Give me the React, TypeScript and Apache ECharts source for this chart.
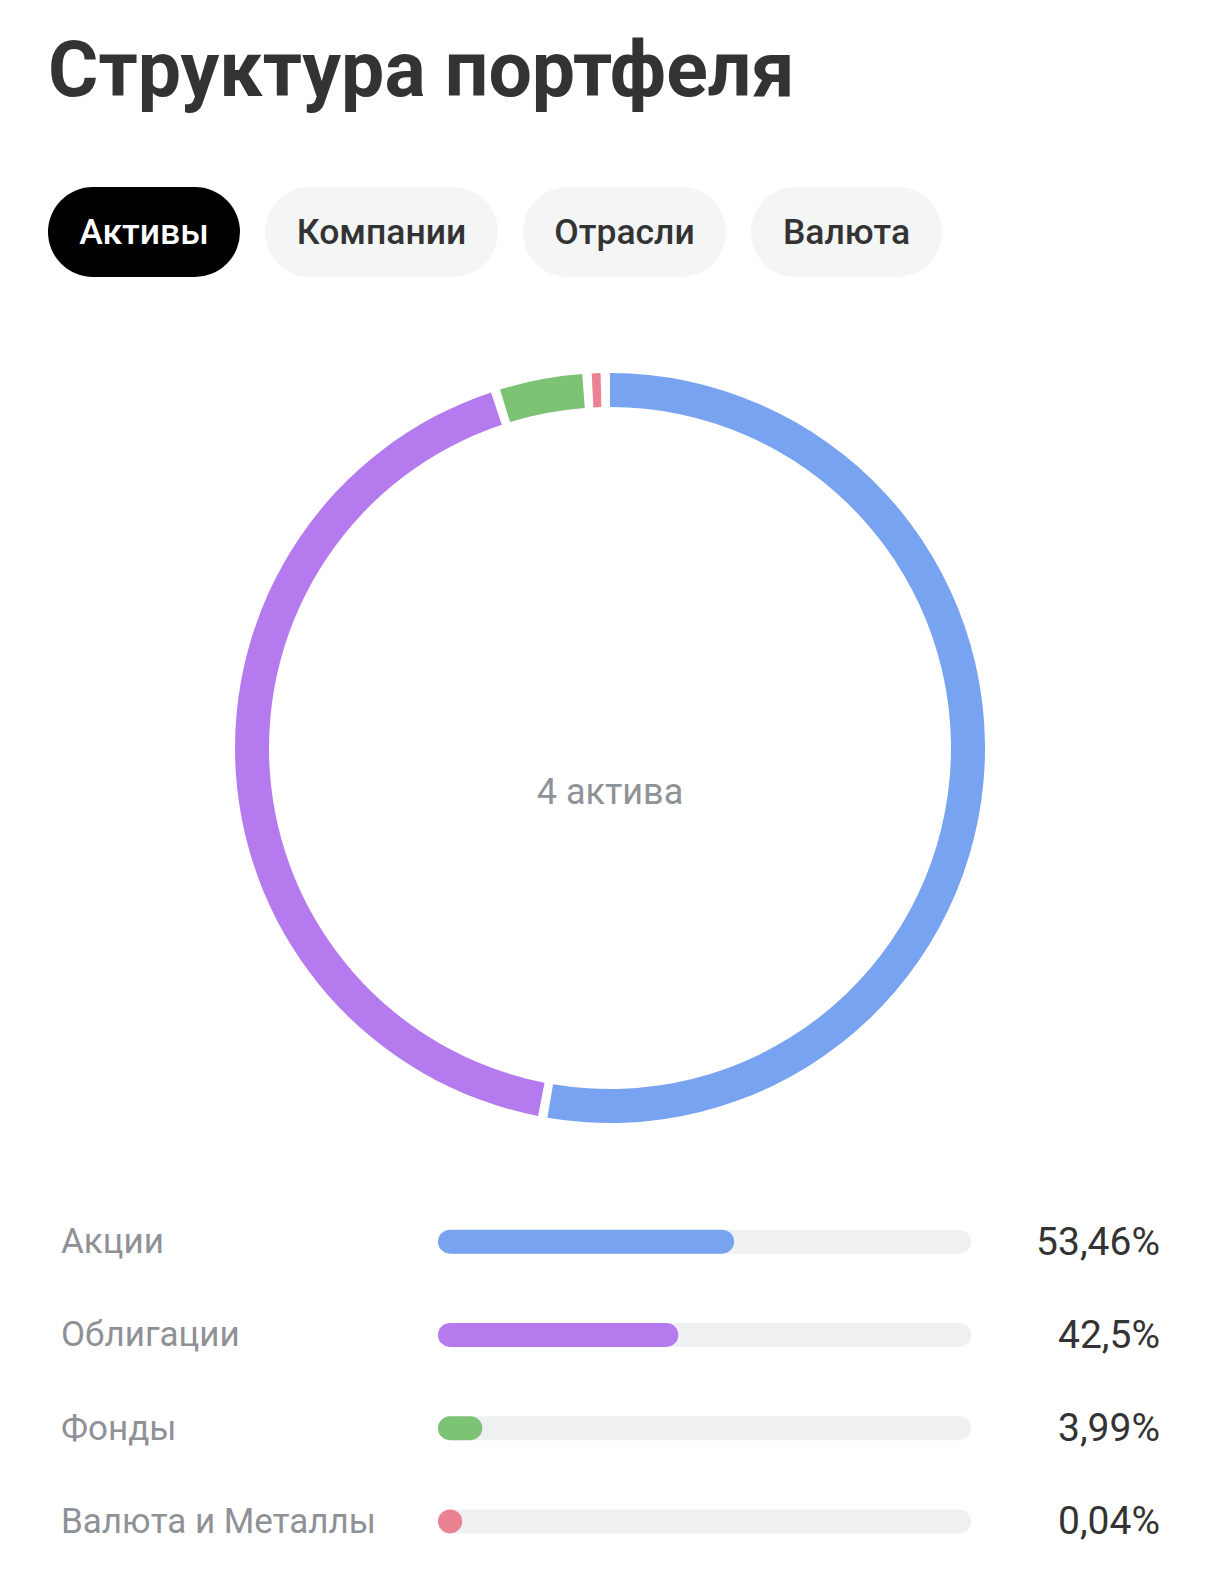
import React, { useEffect, useRef } from "react";
import * as echarts from "echarts";

const title = "Структура портфеля";
const tabs = ["Активы", "Компании", "Отрасли", "Валюта"];
const categories = ["Акции", "Облигации", "Фонды", "Валюта и Металлы"];
const shares = [53.46, 42.5, 3.99, 0.04];
const colors = ["#78a3f0", "#b57bee", "#7cc375", "#ea8291"];
const centerLabel = "4 актива";

const fmt = (v: number) => String(v).replace(".", ",") + "%";

export default function App() {
  const ref = useRef<HTMLDivElement>(null);
  useEffect(() => {
    document.body.style.margin = "0";
    const chart = echarts.init(ref.current!, null, { renderer: "svg" });
    const font = "Roboto, 'Noto Sans', sans-serif";
    const tabGeom = [
      { x: 48, w: 192 },
      { x: 265, w: 233 },
      { x: 523, w: 203 },
      { x: 751, w: 191 },
    ];
    const graphics: any[] = [
      {
        type: "text",
        left: 48,
        top: 31,
        style: { text: title, font: `bold 77px ${font}`, fill: "#333333" },
      },
    ];
    tabs.forEach((t, i) => {
      const g = tabGeom[i];
      const active = i === 0;
      graphics.push({
        type: "rect",
        shape: { x: g.x, y: 187, width: g.w, height: 90, r: 45 },
        style: { fill: active ? "#000000" : "#f4f5f5" },
      });
      graphics.push({
        type: "text",
        x: g.x + g.w / 2,
        y: 232,
        style: {
          text: t,
          font: `500 35.5px ${font}`,
          fill: active ? "#ffffff" : "#333333",
          align: "center",
          verticalAlign: "middle",
        },
      });
    });
    graphics.push({
      type: "text",
      x: 610,
      y: 792,
      style: {
        text: centerLabel,
        font: `36px ${font}`,
        fill: "#8f9297",
        align: "center",
        verticalAlign: "middle",
      },
    });

    const capsule = (fillFor: (i: number) => string, full: boolean) => (params: any, api: any) => {
      const cat = api.value(0);
      const v = full ? 100 : api.value(1);
      const s = api.coord([0, cat]);
      const e = api.coord([v, cat]);
      const h = 24;
      return {
        type: "rect",
        shape: { x: s[0] - h / 2, y: s[1] - h / 2, width: e[0] - s[0] + h, height: h, r: h / 2 },
        style: { fill: fillFor(params.dataIndex) },
      };
    };

    chart.setOption({
      animation: false,
      textStyle: { fontFamily: font },
      graphic: graphics,
      grid: { left: 450, right: 261, top: 1195, height: 373 },
      xAxis: { type: "value", min: 0, max: 100, show: false },
      yAxis: [
        {
          type: "category",
          data: categories,
          inverse: true,
          axisLine: { show: false },
          axisTick: { show: false },
          splitLine: { show: false },
          axisLabel: { align: "left", margin: 389, fontSize: 35, color: "#8e9196", fontFamily: font },
        },
        {
          type: "category",
          position: "right",
          data: shares.map(fmt),
          inverse: true,
          axisLine: { show: false },
          axisTick: { show: false },
          splitLine: { show: false },
          axisLabel: { align: "right", margin: 201, fontSize: 39, color: "#333333", fontFamily: font },
        },
      ],
      series: [
        {
          type: "custom",
          yAxisIndex: 0,
          encode: { x: 1, y: 0 },
          data: shares.map((v, i) => [i, 100]),
          renderItem: capsule(() => "#eef0f1", true),
          silent: true,
        },
        {
          type: "custom",
          yAxisIndex: 0,
          encode: { x: 1, y: 0 },
          data: shares.map((v, i) => [i, v]),
          renderItem: capsule((i) => colors[i], false),
          silent: true,
        },
        {
          type: "pie",
          center: [610, 748],
          radius: [341, 375],
          startAngle: 90.72,
          clockwise: true,
          padAngle: 1.45,
          minAngle: 1.35,
          avoidLabelOverlap: false,
          label: { show: false },
          labelLine: { show: false },
          emphasis: { disabled: true },
          data: categories.map((c, i) => ({ name: c, value: shares[i], itemStyle: { color: colors[i] } })),
        },
      ],
    });
    return () => chart.dispose();
  }, []);
  return (
    <div
      ref={ref}
      style={{ position: "absolute", left: 0, top: 0, width: 1220, height: 1596, background: "#ffffff" }}
    />
  );
}
